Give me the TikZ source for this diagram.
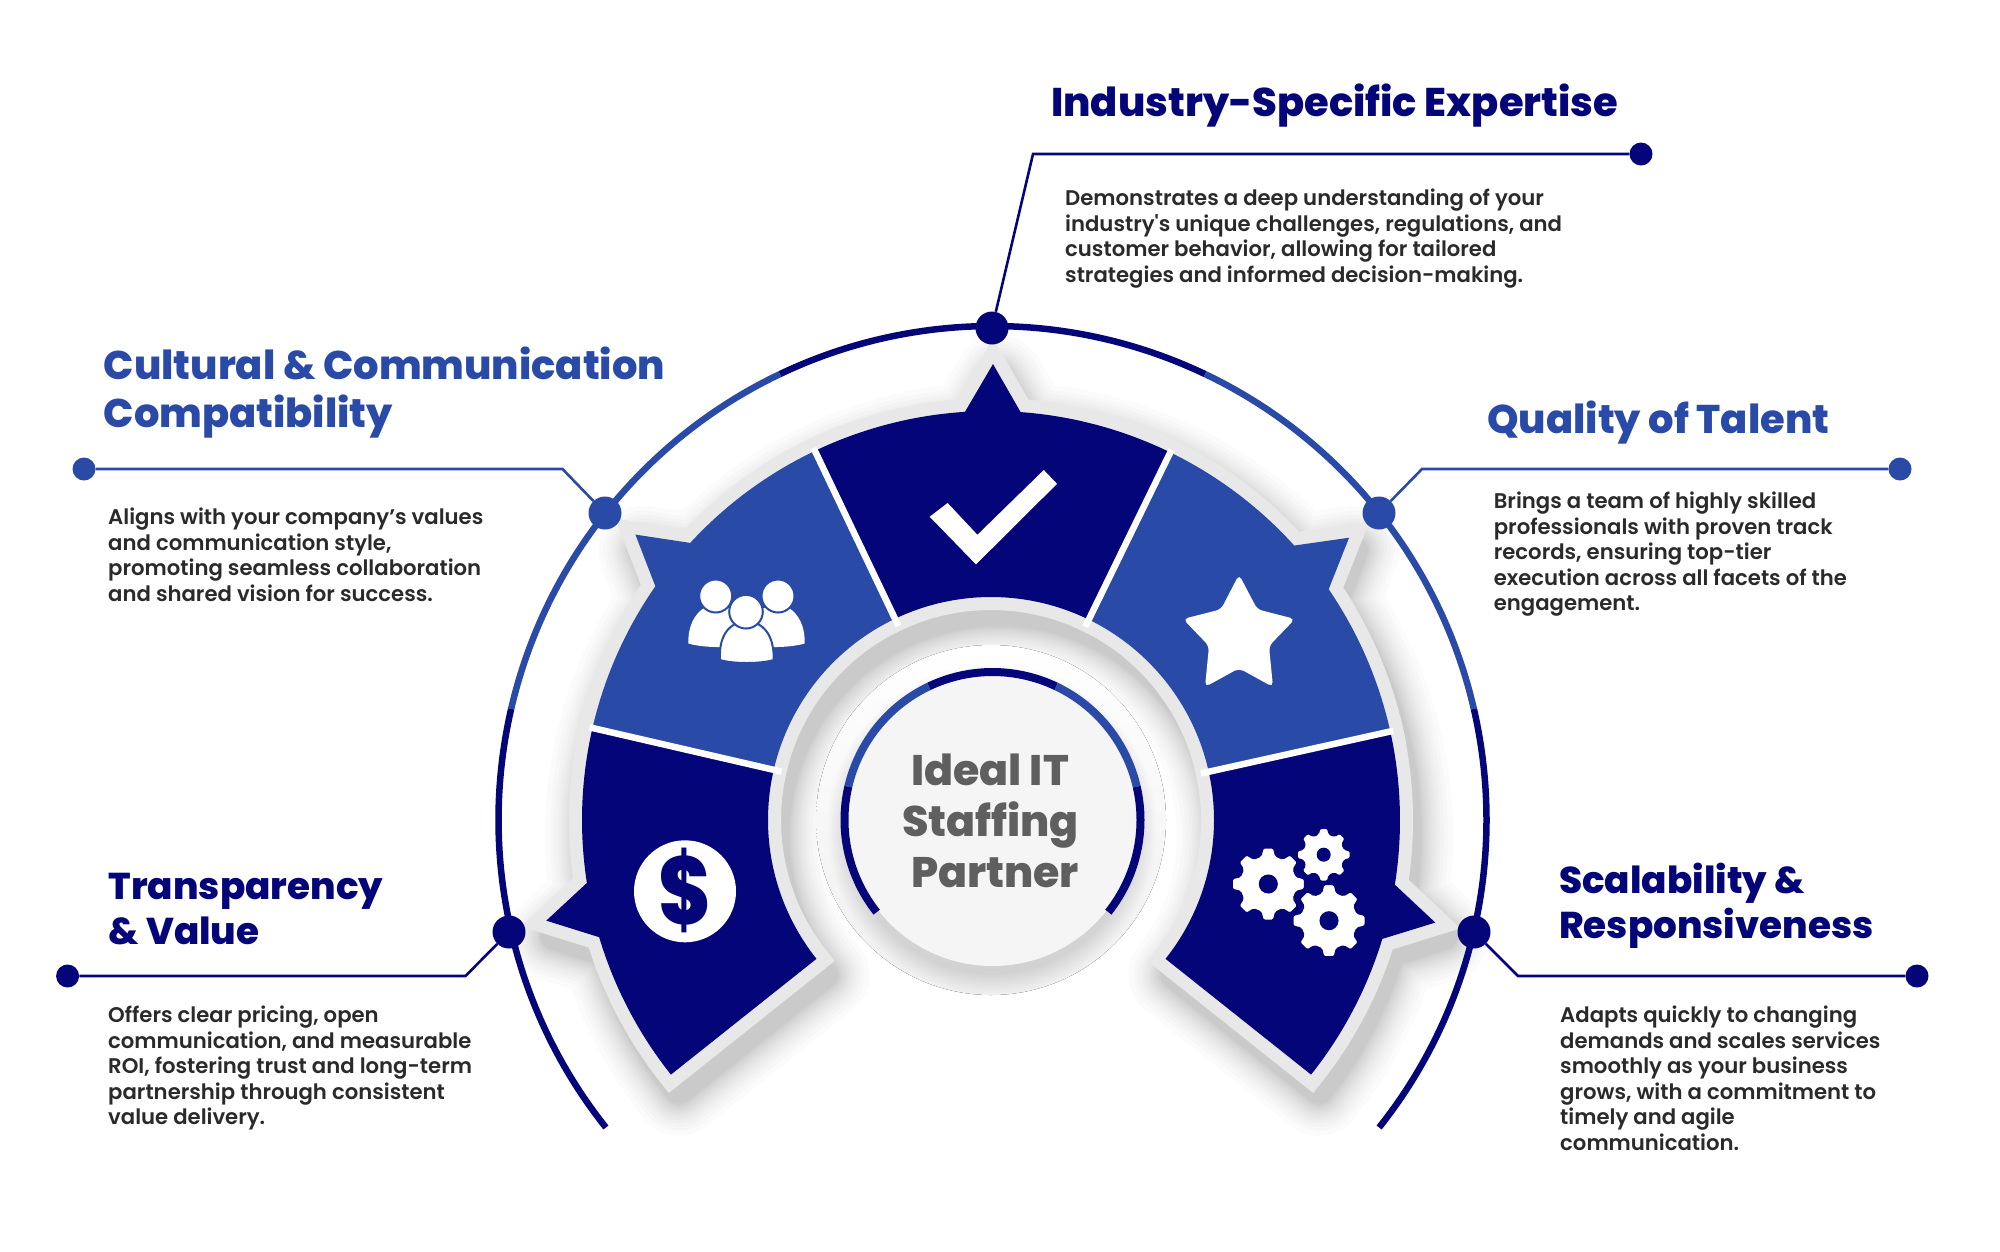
\documentclass[tikz,border=0pt]{standalone}
\usepackage{fontspec}
\usepackage{graphicx}
\setmainfont{Poppins}
\newfontfamily\titlef{Poppins ExtraBold}
\newfontfamily\bodyf{Poppins SemiBold}
\definecolor{navy}{HTML}{05057A}
\definecolor{midblue}{HTML}{2A4AA8}
\definecolor{rimgrey}{HTML}{E8E8E8}
\definecolor{inkdark}{HTML}{2A2A2A}
\definecolor{inkgrey}{HTML}{5F5F5F}
\definecolor{discbottom}{HTML}{EFEFEF}
\definecolor{discfill}{HTML}{F5F5F5}
\tikzset{
  hubdot/.style={circle,inner sep=0,minimum size=33pt,fill=#1},
  enddot/.style={circle,inner sep=0,minimum size=23pt,fill=#1},
  leader/.style={draw=#1,line width=2.6pt},
  ttl/.style={anchor=base west,inner sep=0,align=left,text=#1,font=\titlef\fontsize{40}{47}\selectfont},
  ttlsmall/.style={anchor=base west,inner sep=0,align=left,text=#1,font=\titlef\fontsize{37.3}{45}\selectfont},
  bodytxt/.style={anchor=north west,inner sep=0,align=left,text=inkdark,font=\bodyf\fontsize{21.2}{25.5}\selectfont},
  ctr/.style={anchor=base,inner sep=0,text=inkgrey,font=\titlef\fontsize{42.7}{50}\selectfont},
  arcline/.style={line width=#1,line cap=butt},
}
\newcommand{\sectorshape}[3]{%
  \pgfmathsetmacro\sm{(#2+#3)/2}\pgfmathsetmacro\sa{\sm+3.9}\pgfmathsetmacro\sb{\sm-3.9}%
  \path[#1,shift={(991,820)}] (#2:223) -- (#2:409) arc[start angle=#2,end angle=\sa,radius=409pt]
    -- (\sm:456) -- (\sb:409) arc[start angle=\sb,end angle=#3,radius=409pt]
    -- (#3:223) arc[start angle=#3,end angle=#2,radius=223pt] -- cycle;}
\newcommand{\shapeoutline}[1]{%
  \path[#1,shift={(991,820)}] (38.5:223) -- (38.5:409)
    arc[start angle=38.5,end angle=16.65,radius=409pt] -- (12.75:456) -- (8.85:409)
    arc[start angle=8.85,end angle=-34.85,radius=409pt] -- (-38.75:456) -- (-42.65:409)
    arc[start angle=-42.65,end angle=-86.1,radius=409pt] -- (-90:456) -- (-93.9:409)
    arc[start angle=-93.9,end angle=-137.35,radius=409pt] -- (-141.25:456) -- (-145.15:409)
    arc[start angle=-145.15,end angle=-188.85,radius=409pt] -- (-192.75:456) -- (-196.65:409)
    arc[start angle=-196.65,end angle=-218.5,radius=409pt] -- (-218.5:223)
    arc[start angle=-218.5,end angle=38.5,radius=223pt] -- cycle;}
% width, colour, radius, start, end
\newcommand{\ringarc}[5]{\draw[arcline=#1,draw=#2,shift={(992.5,820)}] (#4:#3) arc[start angle=#4,end angle=#5,radius=#3 pt];}
\newcommand{\gearicon}[3]{%
  \pgfmathsetmacro\gr{#3*0.79}%
  \fill[white,draw=navy,line width=1.6pt,rounded corners=1.6pt,shift={(#1,#2)}] (-105:\gr)
    \foreach \t in {-90,-45,...,225}{ -- (\t-15:\gr) -- (\t-8.5:#3) -- (\t+8.5:#3) -- (\t+15:\gr)} -- cycle;
  \fill[navy] (#1,#2) circle[radius=0.26*#3 pt];}
\begin{document}
\begin{tikzpicture}[x=1pt,y=1pt,yscale=-1]
\useasboundingbox (0,0) rectangle (2000,1251);
% drop shadow of the ring of sectors
\foreach \w in {26,28,30,32,35,38,41,45,49,54,59,65,72,80,90}{
  \shapeoutline{draw=black,line width=\w pt,line join=round,draw opacity=.0145,xshift=8pt,yshift=16pt}
}
% inner disc and its centre
\fill[top color=white,bottom color=discbottom] (991,820) circle[radius=175pt];
\foreach \r in {146,148,150,152,154,156,158,160,162,164}{
  \fill[black,opacity=.012] (992,829) circle[radius=\r pt];
}
\fill[discfill] (992.5,821) circle[radius=145pt];
% outer and centre arcs
\ringarc{6.5pt}{navy}{494}{-64.5}{-115.5}
\ringarc{6.5pt}{midblue}{494}{-13}{-64.5}
\ringarc{6.5pt}{midblue}{494}{-115.5}{-167}
\ringarc{6.5pt}{navy}{494}{38.5}{-13}
\ringarc{6.5pt}{navy}{494}{-167}{-218.5}
\ringarc{8pt}{navy}{148}{-64.5}{-115.5}
\ringarc{8pt}{midblue}{148}{-13}{-64.5}
\ringarc{8pt}{midblue}{148}{-115.5}{-167}
\ringarc{8pt}{navy}{148}{38.5}{-13}
\ringarc{8pt}{navy}{148}{-167}{-218.5}
% sector rim
\sectorshape{draw=rimgrey,line width=26pt,miter limit=10}{38.5}{-12.5}
\sectorshape{draw=rimgrey,line width=26pt,miter limit=10}{-12.5}{-64}
\sectorshape{draw=rimgrey,line width=26pt,miter limit=10}{-64}{-115.5}
\sectorshape{draw=rimgrey,line width=26pt,miter limit=10}{-115.5}{-167}
\sectorshape{draw=rimgrey,line width=26pt,miter limit=10}{-167}{-218.5}
% sectors
\sectorshape{fill=navy}{38.5}{-12.5}
\sectorshape{fill=midblue}{-12.5}{-64}
\sectorshape{fill=navy}{-64}{-115.5}
\sectorshape{fill=midblue}{-115.5}{-167}
\sectorshape{fill=navy}{-167}{-218.5}
% white gaps
\foreach \a in {-12.5,-64,-115.5,-167}{
  \draw[white,line width=6.5pt,shift={(991,820)}] (\a:215) -- (\a:412);
}
% check
\fill[white] (929.7,516.7) -- (976,564.4) -- (1057,483.8) -- (1043.8,470) -- (977.4,534.8) -- (947.6,503) -- cycle;
% star
\fill[white,rounded corners=5pt] (1239,574.5) -- (1257.3,609.3) -- (1295,619) -- (1269,646) -- (1273,687) -- (1239,668.3) -- (1205,687) -- (1209,646) -- (1183,619) -- (1221,609.3) -- cycle;
% people
\fill[white] (688.3,643.5) .. controls (688,625) and (695,614) .. (704,608) -- (735,608) -- (735,646) .. controls (720,648) and (700,647) .. cycle;
\fill[white] (804.7,643.5) .. controls (805,625) and (798,614) .. (789,608) -- (758,608) -- (758,646) .. controls (773,648) and (793,647) .. cycle;
\fill[white,draw=midblue,line width=2pt] (715.7,596) circle[radius=16.5pt];
\fill[white,draw=midblue,line width=2pt] (778,596) circle[radius=16.5pt];
\fill[white,draw=midblue,line width=2pt] (720,660) .. controls (719,642) and (724,630) .. (735,624) -- (758,624) .. controls (769,630) and (774,642) .. (773.7,660) .. controls (760,664) and (733,664) .. cycle;
\fill[white,draw=midblue,line width=2pt] (746,611.7) circle[radius=16.8pt];
% dollar
\node[circle,fill=white,inner sep=0,minimum size=102pt] (coin) at (685,891.3) {};
\node[inner sep=0,text=navy,font=\titlef\fontsize{80}{80}\selectfont] (dollar) at (685,890) {\scalebox{1}[1.2]{\$}};
% gears
\gearicon{1268.3}{884}{36.7}
\gearicon{1323.7}{854.7}{27}
\gearicon{1329}{920.7}{36.7}
% leaders
\node[hubdot=navy] (hubT) at (992,328) {};
\node[hubdot=midblue] (hubL) at (605,513) {};
\node[hubdot=midblue] (hubR) at (1379,513) {};
\node[hubdot=navy] (hubBL) at (509,932) {};
\node[hubdot=navy] (hubBR) at (1474,932) {};
\node[enddot=navy] (endT) at (1641,154) {};
\node[enddot=midblue] (endL) at (84,469) {};
\node[enddot=midblue] (endR) at (1900,469) {};
\node[enddot=navy] (endBL) at (67.6,976) {};
\node[enddot=navy] (endBR) at (1917,976) {};
\coordinate (kT) at (1033,154);
\coordinate (kL) at (562.5,469);
\coordinate (kR) at (1422,469);
\coordinate (kBL) at (465.5,976);
\coordinate (kBR) at (1518,976);
\draw[leader=navy] (hubT) -- (kT) -- (endT);
\draw[leader=midblue] (hubL) -- (kL) -- (endL);
\draw[leader=midblue] (hubR) -- (kR) -- (endR);
\draw[leader=navy] (hubBL) -- (kBL) -- (endBL);
\draw[leader=navy] (hubBR) -- (kBR) -- (endBR);
% titles
\node[ttl=navy] (tT) at (1051,116) {Industry-Specific Expertise};
\node[ttl=midblue] (tL1) at (103.5,379) {Cultural \& Communication};
\node[ttl=midblue] (tL2) at (103.5,427.5) {Compatibility};
\node[ttl=midblue] (tR) at (1487,433.7) {Quality of Talent};
\node[ttlsmall=navy] (tBL1) at (108.5,899) {Transparency};
\node[ttlsmall=navy] (tBL2) at (108.5,944) {\& Value};
\node[ttlsmall=navy] (tBR1) at (1559,893.5) {Scalability \&};
\node[ttlsmall=navy] (tBR2) at (1559,938.5) {Responsiveness};
% body
\node[bodytxt] (bT) at (1065,189) {Demonstrates a deep understanding of your\\industry's unique challenges, regulations, and\\customer behavior, allowing for tailored\\strategies and informed decision-making.};
\node[bodytxt] (bL) at (108,508) {Aligns with your company’s values\\and communication style,\\promoting seamless collaboration\\and shared vision for success.};
\node[bodytxt] (bR) at (1493.6,492) {Brings a team of highly skilled\\professionals with proven track\\records, ensuring top-tier\\execution across all facets of the\\engagement.};
\node[bodytxt] (bBL) at (108,1006) {Offers clear pricing, open\\communication, and measurable\\ROI, fostering trust and long-term\\partnership through consistent\\value delivery.};
\node[bodytxt] (bBR) at (1560,1006) {Adapts quickly to changing\\demands and scales services\\smoothly as your business\\grows, with a commitment to\\timely and agile\\communication.};
% centre
\node[ctr] (c1) at (990,785) {Ideal IT};
\node[ctr] (c2) at (990.5,836) {Staffing};
\node[ctr] (c3) at (995,887.7) {Partner};
\end{tikzpicture}
\end{document}
